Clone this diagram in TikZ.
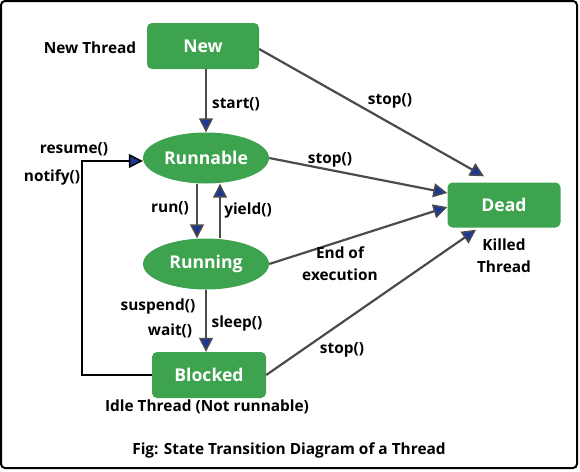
\documentclass[tikz,border=0pt]{standalone}
\usepackage{fontspec}
\setmainfont{Open Sans}
\usetikzlibrary{shapes.geometric,arrows.meta}
\definecolor{stategreen}{RGB}{62,163,78}
\definecolor{tipblue}{RGB}{30,55,150}
\definecolor{linegray}{RGB}{75,75,75}
\tikzset{
    statebox/.style={rectangle,rounded corners=5pt,fill=stategreen,text=white,font=\fontsize{17.6}{20}\selectfont\bfseries,minimum width=112pt,minimum height=46pt},
    stateoval/.style={ellipse,fill=stategreen,text=white,font=\fontsize{17.6}{20}\selectfont\bfseries,minimum width=126pt,minimum height=51pt,inner sep=0pt},
    trans/.style={draw=linegray,line width=2.2pt,-{Triangle[length=14pt,width=14pt,fill=tipblue,line width=1.5pt]}},
    lbl/.style={font=\fontsize{15.4}{22}\selectfont\bfseries,align=center,inner sep=0pt}
}

\begin{document}
\begin{tikzpicture}[x=1pt,y=-1pt]
    \useasboundingbox (0,0) rectangle (580,471);
    \draw[line width=2pt,rounded corners=4pt](1,1)rectangle(577,468);

    \node[statebox](new)at(203,46){New};
    \node[stateoval](runnable)at(206,158){Runnable};
    \node[stateoval](running)at(206,264){Running};
    \node[statebox,minimum width=114pt](blocked)at(209,375){Blocked};
    \node[statebox,minimum width=113pt,minimum height=45pt](dead)at(504,205){Dead};
    \coordinate(loop)at(82,161);

    \draw[trans](new.south-|runnable.north)--(runnable.north);
    \draw[trans]([xshift=-9pt]runnable.south)--([xshift=-9pt]running.north);
    \draw[trans]([xshift=14pt]running.north)--([xshift=14pt]runnable.south);
    \draw[trans](running.south)--(running.south|-blocked.north);
    \draw[trans,draw=black](blocked.west)-|(loop)--([yshift=-3pt]runnable.west);
    \draw[trans]([yshift=-3pt]new.east)--([xshift=-20pt,yshift=6pt]dead.north);
    \draw[trans](runnable.east)--([yshift=12pt]dead.west);
    \draw[trans](running.east)--([yshift=-2pt]dead.west);
    \draw[trans](blocked.east)--([xshift=-28pt,yshift=-2pt]dead.south);

    \node[lbl](newthread)at(90,48){New Thread};
    \node[lbl](start)at(236,104){start()};
    \node[lbl](stopnew)at(390,101){stop()};
    \node[lbl](stoprunnable)at(330,160){stop()};
    \node[lbl](resume)at(74,149){resume()};
    \node[lbl](notify)at(52,177){notify()};
    \node[lbl](run)at(170,208){run()};
    \node[lbl](yield)at(248,210){yield()};
    \node[lbl](endexec)at(340,264){End of\\execution};
    \node[lbl](killed)at(504,256){Killed\\Thread};
    \node[lbl](suspend)at(158,306){suspend()};
    \node[lbl](wait)at(170,331){wait()};
    \node[lbl](sleep)at(237,323){sleep()};
    \node[lbl](stopblocked)at(342,350){stop()};
    \node[lbl](idle)at(207,407){Idle Thread (Not runnable)};
    \node[lbl](caption)at(289,450){Fig: State Transition Diagram of a Thread};
\end{tikzpicture}
\end{document}
